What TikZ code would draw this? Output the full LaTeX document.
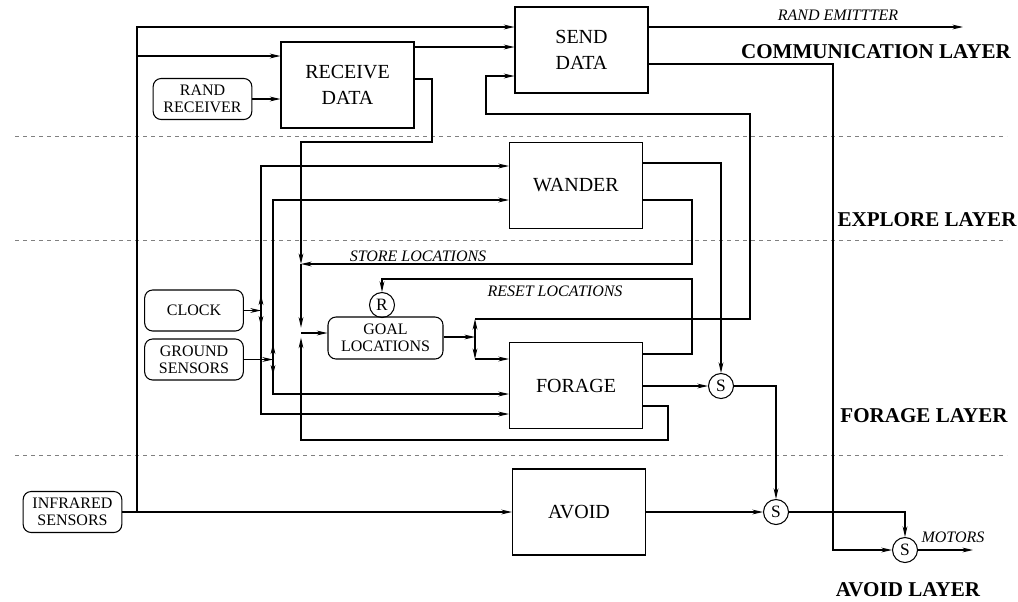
\documentclass[tikz,border=0pt]{standalone}
\usepackage{fontspec}
\setmainfont{Liberation Serif}
\usetikzlibrary{arrows.meta}
\begin{document}
\begin{tikzpicture}[x=0.75pt,y=-0.75pt,line width=0.8pt,
  arr/.style={-{Stealth[length=8pt,width=3.6pt]}},
  blk/.style={draw,rectangle,inner sep=0pt,minimum width=99.75pt,minimum height=64.5pt,align=center,font=\fontsize{15}{19.3}\selectfont},
  rbx/.style={draw,rounded corners=6pt,inner sep=0pt,minimum width=74pt,minimum height=30.75pt,align=center,font=\fontsize{12}{12.8}\selectfont},
  sw/.style={draw,circle,inner sep=0pt,minimum size=18.75pt,font=\fontsize{13}{13}\selectfont},
  layer/.style={font=\bfseries\fontsize{15.8}{18}\selectfont,inner sep=0pt},
  sig/.style={font=\itshape\fontsize{12}{14}\selectfont,inner sep=0pt},
  sep/.style={dash pattern=on 3pt off 3pt,gray,line width=0.6pt}]
\useasboundingbox (0,0) rectangle (1018,601);

% separators
\draw[sep] (15,136) -- (1007,136);
\draw[sep] (15,240) -- (1007,240);
\draw[sep] (15,455) -- (1007,455);

% blocks
\node[blk] (RECV) at (347.5,85) {RECEIVE\\DATA};
\node[blk] (SEND) at (581.5,50) {SEND\\DATA};
\node[blk] (WAND) at (576,185.5) {WANDER};
\node[blk] (FORG) at (576,385.5) {FORAGE};
\node[blk] (AVOD) at (579,512) {AVOID};
\node[rbx] (RR) at (202.5,99) {RAND\\RECEIVER};
\node[rbx] (CLK) at (194,310.5) {CLOCK};
\node[rbx] (GS) at (194,359.5) {GROUND\\SENSORS};
\node[rbx,minimum width=86.25pt,minimum height=31.5pt] (GOAL) at (385.5,338) {GOAL\\LOCATIONS};
\node[rbx] (IR) at (72.5,512) {INFRARED\\SENSORS};
\node[sw] (R) at (382,305) {R};
\node[sw] (S1) at (721,386) {S};
\node[sw] (S2) at (776,512) {S};
\node[sw] (S3) at (905,550) {S};

% layer labels
\node[layer] (Lc) at (876,52) {COMMUNICATION LAYER};
\node[layer] (Le) at (927,220) {EXPLORE LAYER};
\node[layer] (Lf) at (924,416) {FORAGE LAYER};
\node[layer] (La) at (908,590) {AVOID LAYER};

% signal labels
\node[sig] (tE) at (838,15) {RAND EMITTTER};
\node[sig] (tS) at (418,256) {STORE LOCATIONS};
\node[sig] (tR) at (555,291) {RESET LOCATIONS};
\node[sig] (tM) at (953,537) {MOTORS};

% helper coordinates
\coordinate (cTL) at (137,27);
\coordinate (cML) at (137,56);
\coordinate (jIR) at (137,512);
\coordinate (h47) at (0,47);
\coordinate (h64) at (0,64);
\coordinate (h76) at (0,76);
\coordinate (h79) at (0,79);
\coordinate (h163) at (0,163);
\coordinate (h166) at (0,166);
\coordinate (h200) at (0,200);
\coordinate (h354) at (0,354);
\coordinate (h394) at (0,394);
\coordinate (h406) at (0,406);
\coordinate (h414) at (0,414);
\coordinate (emit) at (963,27);
\coordinate (mot) at (973,550);
\coordinate (jS) at (301,264);
\coordinate (jG) at (301,333);
\coordinate (jO) at (475,337);
\coordinate (oU) at (475,319);
\coordinate (oD) at (475,359);
\coordinate (jC) at (261,310.5);
\coordinate (jD) at (273,359.5);

% connectors
\draw[arr] (IR.east) -- (AVOD.west);
\draw[arr] (jIR) -- (cTL) -- (SEND.west |- cTL);
\draw[arr] (cML) -- (RECV.west |- cML);
\draw[arr] (RR.east) -- (RECV.west |- RR.east);
\draw[arr] (RECV.east |- h47) -- (SEND.west |- h47);
\draw[arr] (SEND.east |- cTL) -- (emit);
\draw[arr] (RECV.east |- h79) -- (432,79) -- (432,142) -- (301,142) -- (jS);
\draw[arr] (WAND.east |- h200) -- (692,200) -- (692,264) -- (jS);
\draw[arr,shorten >=4pt] (jS) -- (jG);
\draw[arr,shorten >=3.5pt] (FORG.east |- h406) -- (668,406) -- (668,440) -- (301,440) -- (jG);
\draw[arr] (jG) -- (GOAL.west |- jG);
\draw[arr] (GOAL.east |- jO) -- (jO);
\draw[arr] (jO) -- (oU);
\draw[arr] (oU) -- (750,319) -- (750,114) -- (486,114) -- (486,76) -- (SEND.west |- h76);
\draw[arr] (jO) -- (oD);
\draw[arr] (oD) -- (FORG.west |- oD);
\draw[arr] (CLK.east) -- (jC);
\draw[arr] (jC) -- (261,166) -- (WAND.west |- h166);
\draw[arr] (jC) -- (261,414) -- (FORG.west |- h414);
\draw[arr] (jC) -- ++(0,-16);
\draw[arr] (jC) -- ++(0,16);
\draw[arr] (GS.east) -- (jD);
\draw[arr] (jD) -- (273,200) -- (WAND.west |- h200);
\draw[arr] (jD) -- (273,394) -- (FORG.west |- h394);
\draw[arr] (jD) -- ++(0,-16);
\draw[arr] (jD) -- ++(0,16);
\draw[arr] (WAND.east |- h163) -- (721,163) -- (S1.north);
\draw[arr] (FORG.east |- S1) -- (S1.west);
\draw[arr] (S1.east) -- (776,386) -- (S2.north);
\draw[arr] (FORG.east |- h354) -- (692,354) -- (692,279) -- (382,279) -- (R.north);
\draw[arr] (AVOD.east) -- (S2.west);
\draw[arr] (S2.east) -- (905,512) -- (S3.north);
\draw[arr] (SEND.east |- h64) -- (833,64) -- (833,550) -- (S3.west);
\draw[arr] (S3.east) -- (mot);
\end{tikzpicture}
\end{document}
